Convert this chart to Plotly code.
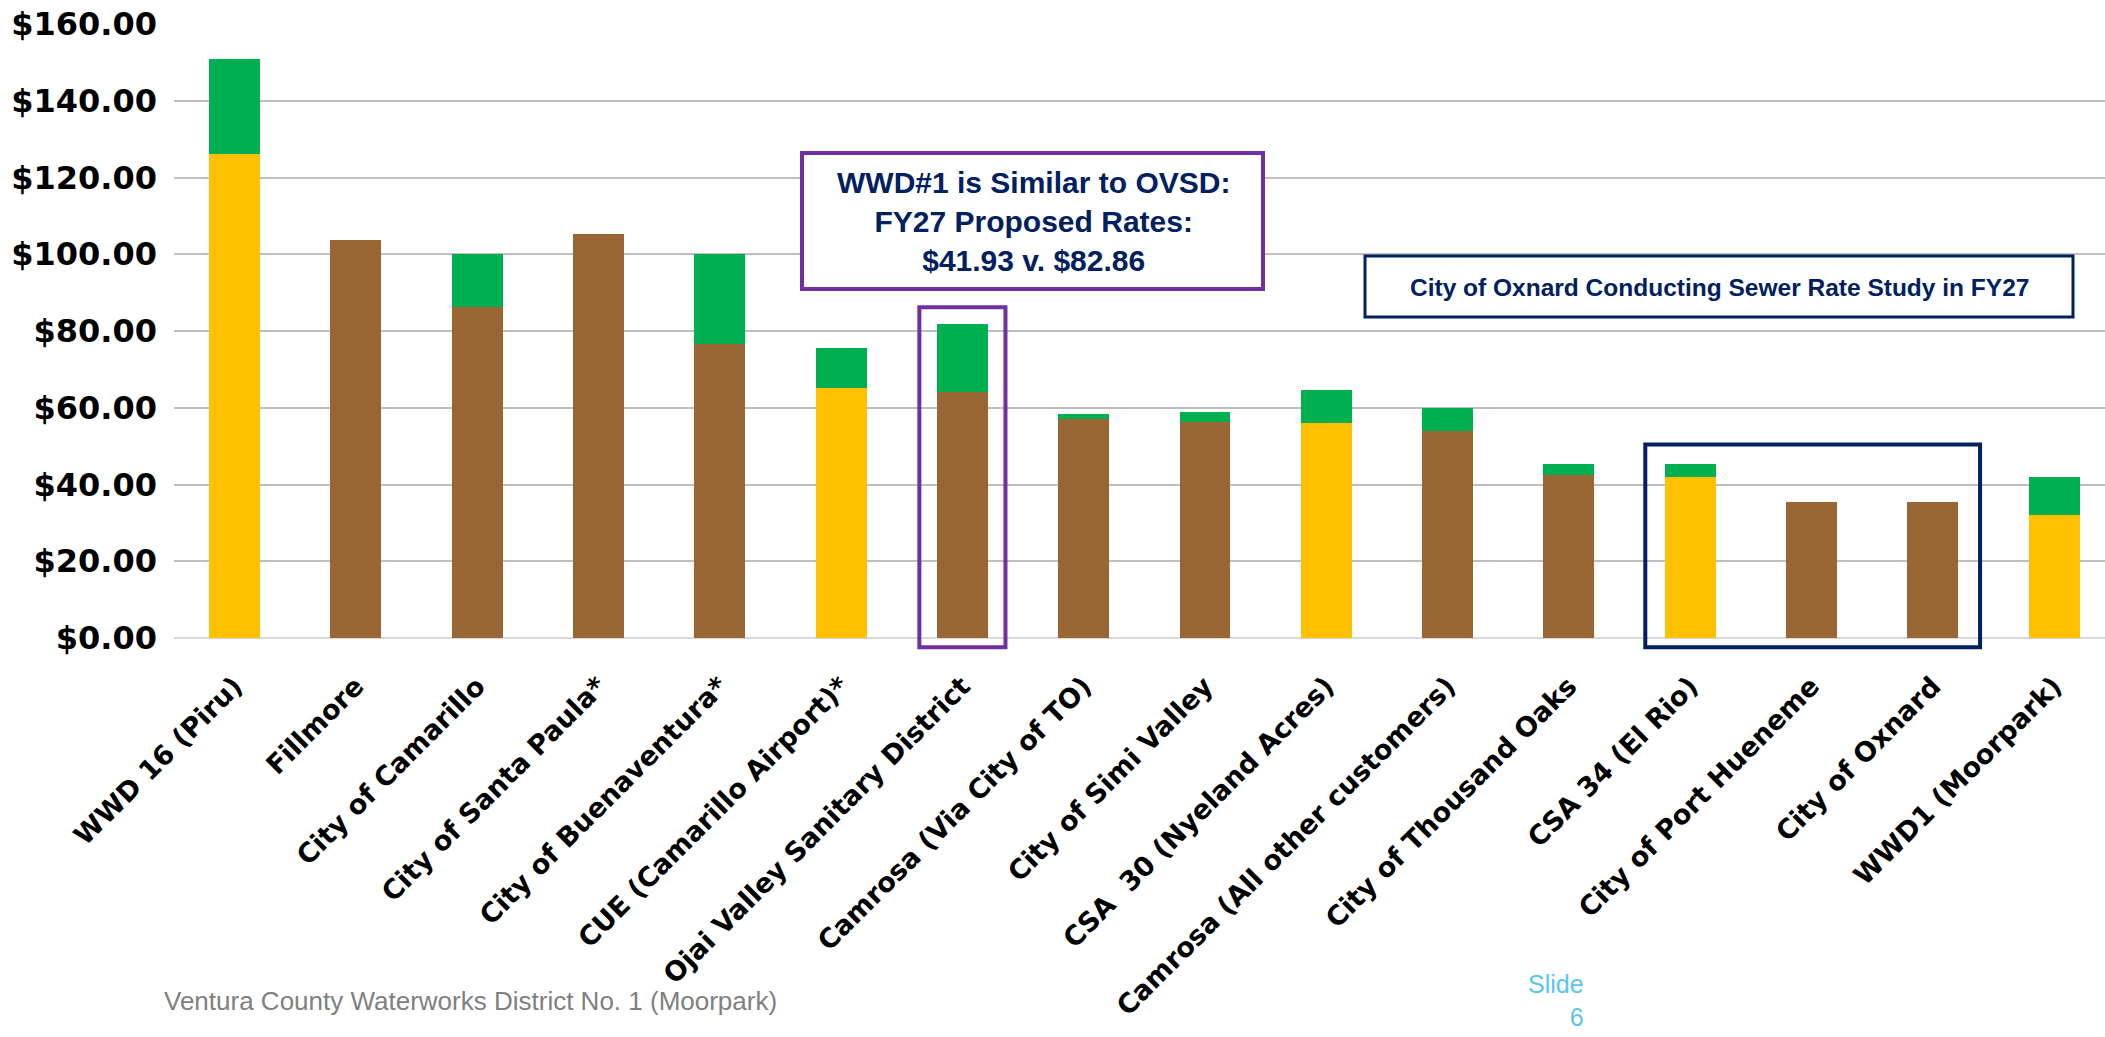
import plotly.graph_objects as go

categories = ["WWD 16 (Piru)", "Fillmore", "City of Camarillo", "City of Santa Paula*",
              "City of Buenaventura*", "CUE (Camarillo Airport)*", "Ojai Valley Sanitary District",
              "Camrosa (Via City of TO)", "City of Simi Valley", "CSA\u00a0\u00a030 (Nyeland Acres)",
              "Camrosa (All other customers)", "City of Thousand Oaks", "CSA 34 (El Rio)",
              "City of Port Hueneme", "City of Oxnard", "WWD1 (Moorpark)"]

county_rate = [126.1, None, None, None, None, 65.2, None, None, None, 55.9, None, None, 41.95, None, None, 32.1]
city_rate = [None, 103.6, 86.2, 105.3, 76.7, None, 64.0, 57.1, 56.3, None, 54.0, 42.5, None, 35.5, 35.5, None]
increase = [24.9, 0, 13.8, 0, 23.3, 10.4, 17.9, 1.2, 2.6, 8.8, 5.9, 2.9, 3.45, 0, 0, 9.83]

y_ticks = [0, 20, 40, 60, 80, 100, 120, 140, 160]
y_tick_labels = ["$%.2f" % v for v in y_ticks]

W, H = 2105, 1037
ML, MR, MT, MB = 174, 0, 24, 399
XMIN, XMAX = -0.5, 15.42

YELLOW = "#FFC000"
BROWN = "#996633"
GREEN = "#00B050"
PURPLE = "#7030A0"
NAVY = "#002060"

fig = go.Figure()
fig.add_trace(go.Bar(x=categories, y=county_rate, marker=dict(color=YELLOW, line=dict(width=0)), name="County"))
fig.add_trace(go.Bar(x=categories, y=city_rate, marker=dict(color=BROWN, line=dict(width=0)), name="City"))
fig.add_trace(go.Bar(x=categories, y=increase, marker=dict(color=GREEN, line=dict(width=0)), name="Increase"))

pw = W - ML - MR
ph = H - MT - MB

def xd(v):
    return (v - XMIN) / (XMAX - XMIN)

def px_x(p):
    return (p - ML) / pw

def px_y(p):
    return (H - MB - p) / ph

def yv(v):
    return v / 160.0

shapes = [
    dict(type="rect", xref="paper", yref="paper", x0=xd(6 - 0.355), x1=xd(6 + 0.355),
         y0=yv(-2.4), y1=yv(86.2), line=dict(color=PURPLE, width=4)),
    dict(type="rect", xref="paper", yref="paper", x0=xd(12 - 0.37), x1=xd(14 + 0.39),
         y0=yv(-2.4), y1=yv(50.4), line=dict(color=NAVY, width=4)),
    dict(type="rect", xref="paper", yref="paper", x0=px_x(802), x1=px_x(1263),
         y0=px_y(289), y1=px_y(153), line=dict(color=PURPLE, width=4), fillcolor="white"),
    dict(type="rect", xref="paper", yref="paper", x0=px_x(1365), x1=px_x(2073),
         y0=px_y(317), y1=px_y(256), line=dict(color=NAVY, width=3), fillcolor="white"),
]

annotations = [
    dict(xref="paper", yref="paper", x=px_x(1033), y=px_y(221), xanchor="center", yanchor="middle",
         text="WWD#1 is Similar to OVSD:<br>FY27 Proposed Rates:<br>$41.93 v. $82.86", showarrow=False,
         font=dict(family="Liberation Sans, Arial", size=30, color=NAVY, weight="bold"), align="center"),
    dict(xref="paper", yref="paper", x=px_x(1719), y=px_y(287), xanchor="center", yanchor="middle",
         text="City of Oxnard Conducting Sewer Rate Study in FY27", showarrow=False,
         font=dict(family="Liberation Sans, Arial", size=24.5, color=NAVY, weight="bold")),
    dict(xref="paper", yref="paper", x=px_x(162), y=px_y(1001), xanchor="left", yanchor="middle",
         text="Ventura County Waterworks District No. 1 (Moorpark)", showarrow=False,
         font=dict(family="Liberation Sans, Arial", size=26, color="#808080")),
    dict(xref="paper", yref="paper", x=px_x(1586), y=px_y(1000), xanchor="right", yanchor="middle",
         text="Slide<br>6", showarrow=False, align="right",
         font=dict(family="Liberation Sans, Arial", size=25, color="#5BC5F0")),
]

fig.update_layout(
    width=W, height=H,
    margin=dict(l=ML, r=MR, t=MT, b=MB, autoexpand=False),
    paper_bgcolor="white", plot_bgcolor="white",
    barmode="stack", bargap=0.58,
    showlegend=False,
    shapes=shapes, annotations=annotations,
    xaxis=dict(range=[XMIN, XMAX], showgrid=False, showline=False, ticks="", tickangle=-45,
               ticklabelstandoff=26,
               tickfont=dict(family="DejaVu Sans", size=27, color="black", weight="bold"),
               automargin=False),
    yaxis=dict(range=[0, 160], tickmode="array", tickvals=y_ticks, ticktext=y_tick_labels,
               showgrid=True, gridcolor="#BFBFBF", gridwidth=2,
               zeroline=True, zerolinecolor="#D9D9D9", zerolinewidth=2,
               showline=False, ticks="", ticklabelstandoff=16,
               tickfont=dict(family="DejaVu Sans", size=32, color="black", weight="bold"),
               automargin=False),
)

fig.write_html("out.html", config={"displayModeBar": False},
               post_script="document.body.style.margin='0px';document.body.style.overflow='hidden';")
